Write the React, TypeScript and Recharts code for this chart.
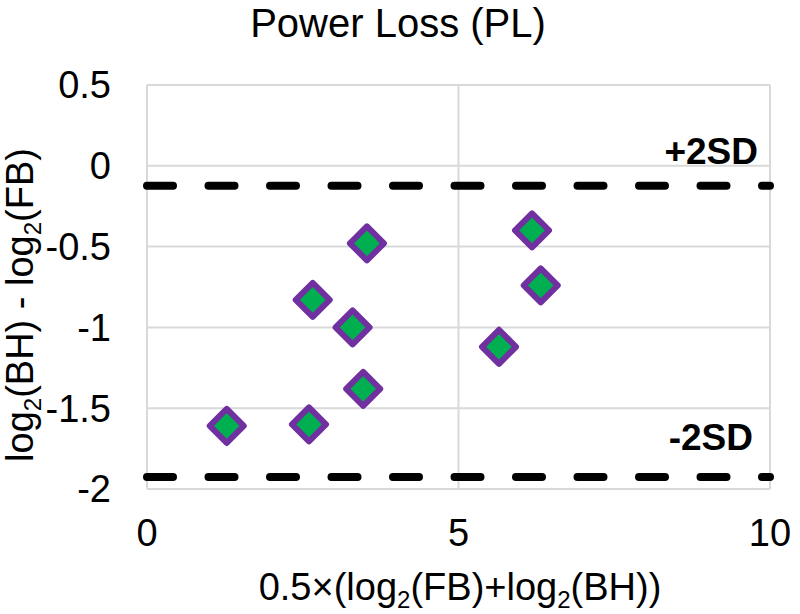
import { ScatterChart, Scatter, XAxis, YAxis, CartesianGrid, ReferenceLine } from 'recharts';

const xValues = [1.28, 2.6, 2.66, 3.3, 3.47, 3.53, 5.65, 6.18, 6.32];
const yValues = [-1.61, -1.6, -0.83, -1.0, -1.38, -0.48, -1.12, -0.4, -0.74];
const xTicks = [0, 5, 10];
const yTicks = [-2, -1.5, -1, -0.5, 0, 0.5];
const upperSD = -0.124;
const lowerSD = -1.926;

const points = xValues.map((x, i) => ({ x, y: yValues[i] }));

const FONT = '"Liberation Sans", Arial, sans-serif';

function Diamond(props: any) {
  const { cx, cy } = props;
  const r = 17;
  return (
    <polygon
      points={`${cx},${cy - r} ${cx + r},${cy} ${cx},${cy + r} ${cx - r},${cy}`}
      fill="#00B050"
      stroke="#7030A0"
      strokeWidth={6}
      strokeLinejoin="round"
    />
  );
}

function sdLabel(text: string, dy: number, dx: number) {
  return (props: any) => {
    const { viewBox } = props;
    return (
      <text
        x={viewBox.x + viewBox.width - dx}
        y={viewBox.y - dy}
        textAnchor="end"
        fontFamily={FONT}
        fontSize={37}
        fontWeight="bold"
        fill="#000"
      >
        {text}
      </text>
    );
  };
}

export default function App() {
  return (
    <div style={{ position: 'absolute', left: 0, top: 0, width: 800, height: 614, background: '#fff' }}>
      <ScatterChart width={800} height={614} margin={{ top: 85, right: 30, bottom: 0, left: 0 }}>
        <CartesianGrid stroke="#D9D9D9" strokeWidth={2} />
        <XAxis
          type="number"
          dataKey="x"
          domain={[0, 10]}
          ticks={xTicks}
          axisLine={false}
          tickLine={false}
          tickSize={0}
          tickMargin={30}
          height={125}
          tick={{ fontSize: 38, fill: '#000', fontFamily: FONT }}
          interval={0}
        />
        <YAxis
          type="number"
          dataKey="y"
          domain={[-2, 0.5]}
          ticks={yTicks}
          axisLine={false}
          tickLine={false}
          tickSize={0}
          tickMargin={36}
          width={147}
          tick={{ fontSize: 38, fill: '#000', fontFamily: FONT }}
          interval={0}
        />
        <ReferenceLine
          y={upperSD}
          stroke="#000"
          strokeWidth={8}
          strokeDasharray="26 35.5"
          strokeLinecap="round"
          label={sdLabel('+2SD', 22, 12)}
        />
        <ReferenceLine
          y={lowerSD}
          stroke="#000"
          strokeWidth={8}
          strokeDasharray="26 35.5"
          strokeLinecap="round"
          label={sdLabel('-2SD', 27, 17)}
        />
        <Scatter data={points} shape={Diamond} isAnimationActive={false} />
      </ScatterChart>
      <svg
        width={800}
        height={614}
        style={{ position: 'absolute', left: 0, top: 0, pointerEvents: 'none' }}
      >
        <text x={398} y={37} textAnchor="middle" fontFamily={FONT} fontSize={40} fill="#000">
          Power Loss (PL)
        </text>
        <text x={460} y={600} textAnchor="middle" fontFamily={FONT} fontSize={38} fill="#000">
          0.5×(log
          <tspan fontSize={24} dy={8}>2</tspan>
          <tspan dy={-8}>(FB)+log</tspan>
          <tspan fontSize={24} dy={8}>2</tspan>
          <tspan dy={-8}>(BH))</tspan>
        </text>
        <text
          transform="translate(33,305) rotate(-90)"
          textAnchor="middle"
          fontFamily={FONT}
          fontSize={38}
          fill="#000"
        >
          log
          <tspan fontSize={24} dy={8}>2</tspan>
          <tspan dy={-8}>(BH) - log</tspan>
          <tspan fontSize={24} dy={8}>2</tspan>
          <tspan dy={-8}>(FB)</tspan>
        </text>
      </svg>
    </div>
  );
}
